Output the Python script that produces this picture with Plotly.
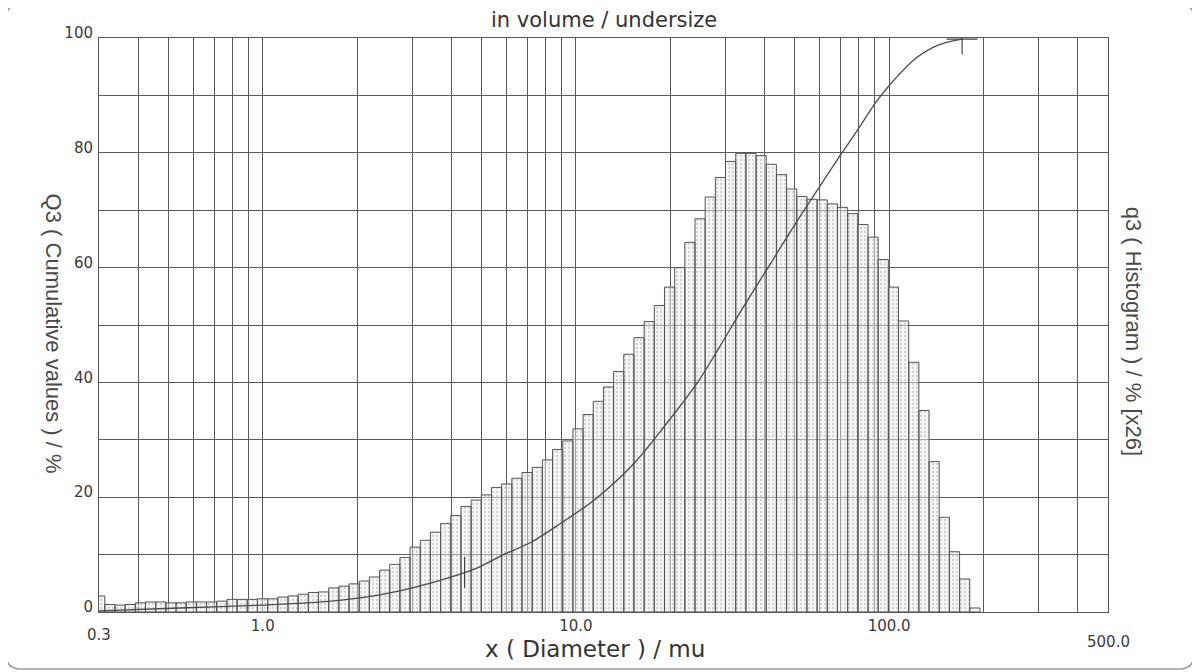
import math
import numpy as np
import plotly.graph_objects as go

# ---------------- data ----------------
# histogram channels: logarithmically equal classes (µm)
channel_first_edge = 0.2905
channel_last_edge = 195.0
n_channels = 87

# q3 histogram heights, already scaled [x26] (same 0-100 axis)
q3_hist_x26 = [
    2.8, 1.3, 1.2, 1.3, 1.6, 1.75, 1.75, 1.6, 1.6, 1.75, 1.75, 1.75, 1.9, 2.2, 2.2, 2.2,
    2.3, 2.3, 2.6, 2.8, 3.1, 3.4, 3.5,
    4.2, 4.5, 4.9, 5.4, 6.1, 7.3, 8.3, 9.5, 11.3, 12.5, 13.9, 15.4, 16.8, 18.4, 19.5,
    20.4, 21.7, 22.3, 23.3, 24.3, 25.2, 26.5, 28.3,
    29.8, 31.9, 34.4, 36.7, 39.2, 41.9, 44.9, 47.8, 50.6, 53.4, 56.6, 60.0, 64.4, 68.5,
    72.3, 75.7, 78.5, 79.9, 79.9, 79.5,
    78.0, 76.2, 73.7, 72.4, 71.9, 71.8, 71.1, 70.5, 69.4, 67.5, 65.3, 61.4, 56.6, 50.7,
    43.5, 35.1, 26.2, 16.5, 10.5, 5.75, 0.7,
]

# Q3 cumulative curve (µm, %)
cum_x = [0.30, 0.544, 1.0, 1.58, 2.36, 3.05, 3.89, 4.85, 5.83, 7.21, 8.86, 11.5, 15.4,
         19.2, 24.4, 28.7, 33.7, 41.4, 49.1, 56.4, 70.3, 78.5, 90.2, 99.3, 122.0, 144.0, 171.0]
cum_Q3 = [0.2, 0.7, 1.2, 1.8, 3.0, 4.3, 5.9, 7.7, 9.9, 12.2, 15.3, 19.6, 26.0,
          32.4, 39.9, 46.1, 52.5, 60.3, 66.8, 71.9, 79.8, 83.6, 88.6, 91.5, 96.5, 98.8, 99.8]

# marks drawn on the curve
mark_x = [4.41, 171.0]
mark_y = [6.9, 99.8]
mark_symbols = ["line-ns", "cross-thin"]

# axis ticks / labels
x_label_vals = [1.0, 10.0, 100.0]
x_label_text = ["1.0", "10.0", "100.0"]
x_extra_labels = [(0.3, "0.3"), (500.0, "500.0")]
y_grid_vals = [0, 10, 20, 30, 40, 50, 60, 70, 80, 90, 100]
y_label_text = ["0", "", "20", "", "40", "", "60", "", "80", "", "100"]

# ---------------- build figure ----------------
edges = np.geomspace(channel_first_edge, channel_last_edge, n_channels + 1)
bx, by = [], []
for lo, hi, h in zip(edges[:-1], edges[1:], q3_hist_x26):
    bx += [lo, lo, hi, hi, lo, None]
    by += [0, h, h, 0, 0, None]

GRID = "#5a5a5a"
TXT = "#3a3a3a"

fig = go.Figure()
fig.add_trace(go.Scatter(
    x=bx, y=by, mode="lines", fill="toself",
    line=dict(color="#555555", width=1),
    fillcolor="rgba(236,236,236,0.5)",
    fillpattern=dict(shape=".", fgcolor="#ababab", size=4, solidity=0.25),
    hoverinfo="skip", showlegend=False,
))
fig.add_trace(go.Scatter(
    x=cum_x, y=cum_Q3, mode="lines",
    line=dict(color="#4a4a4a", width=1.3, shape="spline", smoothing=0.8),
    showlegend=False,
))
fig.add_trace(go.Scatter(
    x=mark_x, y=mark_y, mode="markers",
    marker=dict(symbol=mark_symbols, size=22, color="#444444",
                line=dict(color="#444444", width=1.2)),
    showlegend=False,
))

x_grid_vals = [m * 10 ** e for e in (-1, 0, 1, 2) for m in range(1, 10)
               if 0.3 - 1e-9 <= m * 10 ** e <= 500 + 1e-9]
lab = {round(v, 6): t for v, t in zip(x_label_vals, x_label_text)}
x_tick_text = [lab.get(round(v, 6), "") for v in x_grid_vals]

fig.update_xaxes(
    type="log", range=[math.log10(0.3), math.log10(500)],
    tickmode="array", tickvals=x_grid_vals, ticktext=x_tick_text,
    showgrid=True, gridcolor=GRID, gridwidth=1,
    showline=True, mirror=True, linecolor="#555555", linewidth=1,
    ticks="", zeroline=False,
    tickfont=dict(family="DejaVu Sans", size=15, color=TXT),
)
fig.update_yaxes(
    range=[0, 100], tickmode="array", tickvals=y_grid_vals, ticktext=y_label_text,
    showgrid=True, gridcolor=GRID, gridwidth=1,
    showline=True, mirror=True, linecolor="#555555", linewidth=1,
    ticks="", zeroline=False, ticklabelshift=-5, ticklabelstandoff=2,
    tickfont=dict(family="DejaVu Sans", size=15, color=TXT),
)

annotations = [
    dict(text="in volume / undersize", xref="paper", yref="paper", x=0.5, y=1,
         yshift=18, yanchor="middle", showarrow=False,
         font=dict(family="DejaVu Sans", size=21, color="#333333")),
    dict(text="x ( Diameter ) / mu", xref="paper", yref="paper", x=0.492, y=0,
         yshift=-37, yanchor="middle", showarrow=False,
         font=dict(family="DejaVu Sans", size=23, color="#333333")),
    dict(text="Q3 ( Cumulative values ) / %", xref="paper", yref="paper", x=0, y=0.485,
         xshift=-46, textangle=90, xanchor="center", yanchor="middle", showarrow=False,
         font=dict(family="Liberation Sans", size=22, color="#4a4a4a")),
    dict(text="q3 ( Histogram ) / % [x26]", xref="paper", yref="paper", x=1, y=0.49,
         xshift=25, textangle=90, xanchor="center", yanchor="middle", showarrow=False,
         font=dict(family="Liberation Sans", size=22, color="#4a4a4a")),
]
for v, t in x_extra_labels:
    annotations.append(dict(
        text=t, xref="x", yref="paper", x=math.log10(v), y=0,
        yshift=-23 if v < 1 else -30, yanchor="middle", showarrow=False,
        font=dict(family="DejaVu Sans", size=15, color=TXT)))

# page body has an 8 px margin: compensate so the plot lands where the reference has it
OFF = 8
l_px, t_px = 99 - OFF, 38 - OFF
pw, ph = 1009, 574
W, H = 1200 - OFF, 672 - OFF
r_px, b_px = W - l_px - pw, H - t_px - ph

# decorative page frame (rounded rectangle), positions in reference pixels
px = lambda x: (x - OFF - l_px) / pw
py = lambda y: (t_px + ph - (y - OFF)) / ph
L, R, T, B = px(6), px(1194), py(4), py(669)
rx, ry = 15 / pw, 15 / ph
frame = (f"M {L+rx},{T} L {R-rx},{T} Q {R},{T} {R},{T-ry} L {R},{B+ry} Q {R},{B} {R-rx},{B} "
         f"L {L+rx},{B} Q {L},{B} {L},{B+ry} L {L},{T-ry} Q {L},{T} {L+rx},{T} Z")

fig.update_layout(
    width=W, height=H,
    margin=dict(l=l_px, r=r_px, t=t_px, b=b_px, autoexpand=False),
    paper_bgcolor="white", plot_bgcolor="white",
    annotations=annotations,
    shapes=[dict(type="path", xref="paper", yref="paper", path=frame,
                 line=dict(color="#9a9a9a", width=1.5), layer="below")],
    showlegend=False,
)

fig.write_html("out.html")
